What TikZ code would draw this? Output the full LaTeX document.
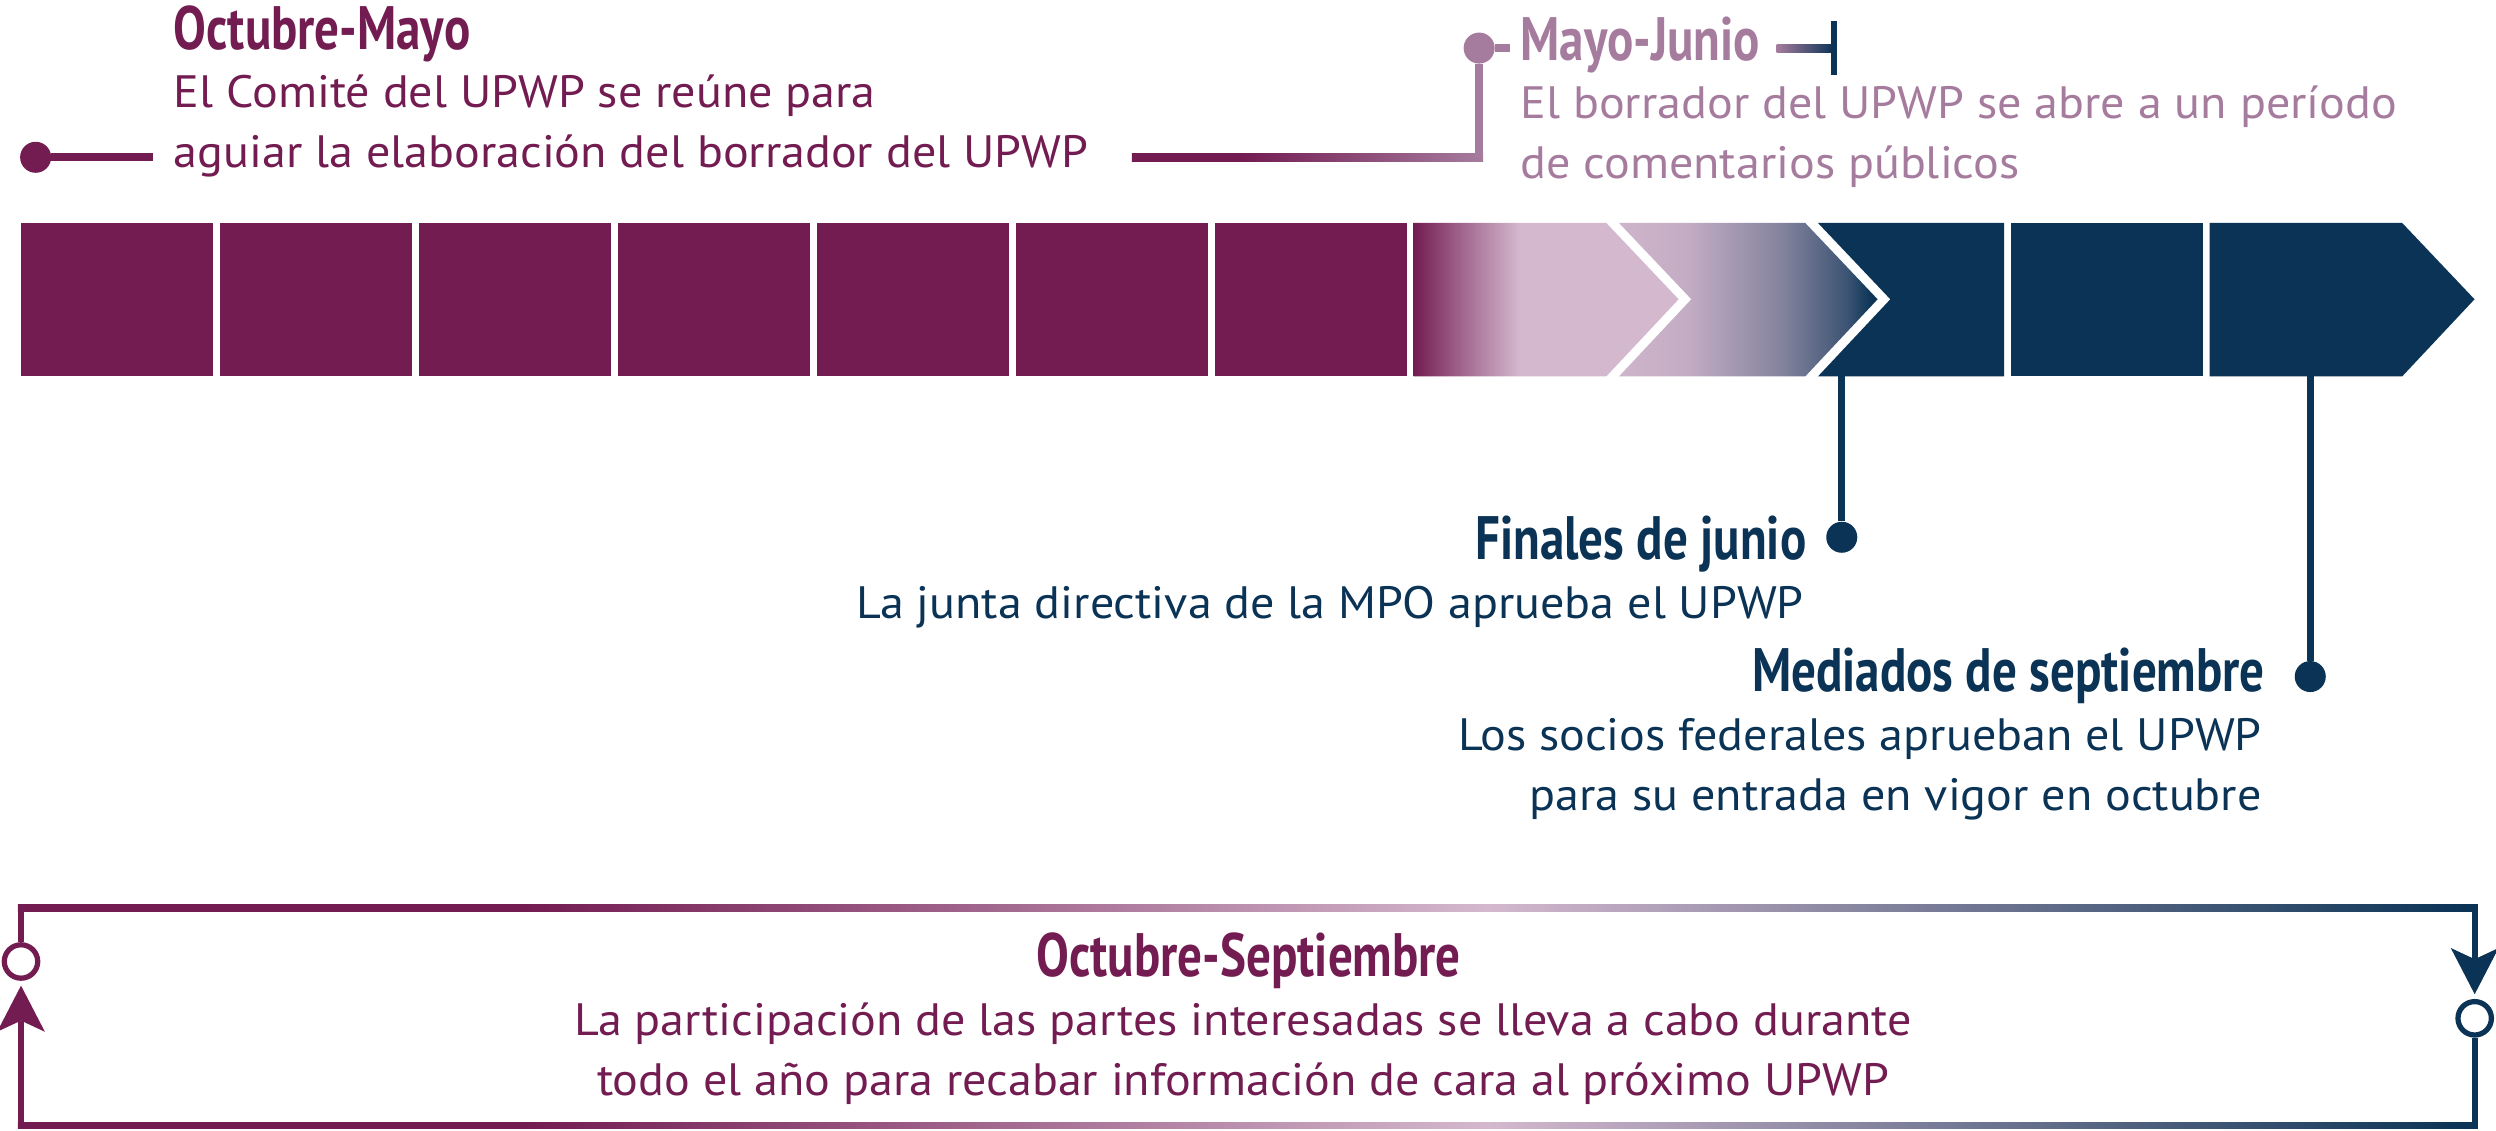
\documentclass[tikz,border=0pt]{standalone}
\usepackage{fontspec}
\setmainfont{PT Sans}
\newfontfamily\headfont[FakeStretch=0.80]{PT Sans Bold}
\newfontfamily\bodyfont[FakeStretch=1.06]{PT Sans}
\usetikzlibrary{arrows.meta,calc}

\definecolor{plum}{RGB}{115,28,82}
\definecolor{navy}{RGB}{10,51,85}
\definecolor{blush}{RGB}{212,184,206}
\definecolor{mauve}{RGB}{166,124,158}

\pgfdeclarehorizontalshading{octfade}{100bp}{color(0bp)=(plum); color(25bp)=(plum); color(33.6bp)=(plum!55!blush); color(45bp)=(blush); color(100bp)=(blush)}
\pgfdeclarehorizontalshading{junfade}{100bp}{color(0bp)=(blush!97!navy); color(25bp)=(blush!97!navy); color(38bp)=(blush!92!navy); color(56.6bp)=(blush!60!navy); color(69bp)=(blush!25!navy); color(74bp)=(navy); color(100bp)=(navy)}
\pgfdeclarehorizontalshading{linkfade}{100bp}{color(0bp)=(plum); color(40.7bp)=(plum); color(75bp)=(mauve); color(100bp)=(mauve)}
\pgfdeclarehorizontalshading{loopfade}{100bp}{color(0bp)=(plum); color(35.3bp)=(plum); color(54.9bp)=(blush); color(74.8bp)=(navy); color(100bp)=(navy)}

\begin{document}
\begin{tikzpicture}[x=1pt,y=-1pt,
    dot/.style={circle,fill,inner sep=0pt,minimum size=19.5pt},
    ring/.style={circle,draw,fill=white,line width=3.3pt,inner sep=0pt,minimum size=21pt},
    head/.style={inner sep=0pt,font=\headfont\fontsize{38.5}{40}\selectfont},
    body/.style={inner sep=0pt,font=\bodyfont\fontsize{28.5}{37.5}\selectfont},
    link/.style={line width=5pt},
    loopline/.style={line width=4pt},
    loophead/.style={-{Stealth[length=29pt 0 0,width=30pt 0 0,inset=7pt 0,line width=0pt]},shorten >=3pt}]

    \useasboundingbox (0,0) rectangle (1568,709.9);

    % months bar
    \foreach \i in {0,...,6}
        \fill[plum] ({13+125*\i},140) rectangle ++(121,96.5);
    \shade[shading=octfade] (888,140) -- (1009,140) -- (1054.5,188) -- (1009,236.5) -- (888,236.5) -- cycle;
    \shade[shading=junfade] (1017,140) -- (1134,140) -- (1179.5,188) -- (1134,236.5) -- (1017,236.5) -- (1062.5,188) -- cycle;
    \fill[navy] (1142,140) -- (1259,140) -- (1259,236.5) -- (1142,236.5) -- (1187.5,188) -- cycle;
    \fill[navy] (1263,140) rectangle (1384,236.5);
    \fill[navy] (1388,140) -- (1509,140) -- (1554.5,188) -- (1509,236.5) -- (1388,236.5) -- cycle;

    % Octubre-Mayo
    \node[dot,plum] (octDot) at (22.4,98.8) {};
    \coordinate (octStub) at (96,98.8);
    \draw[link,plum] (octDot) -- (octStub);
    \node[head,plum,anchor=base west] (octHead) at (109,31) {Octubre-Mayo};
    \node[body,plum,anchor=base west,align=left] (octText) at (109,105)
        {El Comité del UPWP se reúne para\\aguiar la elaboración del borrador del UPWP};

    % Mayo-Junio
    \coordinate (octLink) at (711,98.8);
    \coordinate (junCorner) at (929.2,98.8);
    \node[dot,mauve] (junDot) at (929.2,30.2) {};
    \shade[shading=linkfade] ($(octLink)+(0,-2.5)$) rectangle ($(junCorner)+(2.5,2.5)$);
    \draw[link,mauve] (junCorner) -- (junDot);
    \coordinate (junStub) at (948.4,30.2);
    \draw[link,mauve] (junDot) -- (junStub);
    \node[head,mauve,anchor=base west] (junHead) at (955,37.7) {Mayo-Junio};
    \coordinate (junTail) at (1116,30.5);
    \coordinate (junTick) at (1152,30.5);
    \shade[left color=mauve,right color=navy] ($(junTail)+(0,-2.3)$) rectangle ($(junTick)+(0,2.3)$);
    \draw[navy,line width=3.5pt] ($(junTick)+(0,-17)$) -- ($(junTick)+(0,16.5)$);
    \node[body,mauve,anchor=base west,align=left] (junText) at (955,112)
        {El borrador del UPWP se abre a un período\\de comentarios públicos};

    % Finales de junio
    \coordinate (finTop) at (1157,236.5);
    \node[dot,navy] (finDot) at (1157,337.5) {};
    \draw[navy,line width=4.5pt] (finTop) -- (finDot);
    \node[head,navy,anchor=base east] (finHead) at (1135,351.3) {Finales de junio};
    \node[body,navy,anchor=base east] (finText) at (1133.4,388.4) {La junta directiva de la MPO aprueba el UPWP};

    % Mediados de septiembre
    \coordinate (medTop) at (1451.3,236.5);
    \node[dot,navy] (medDot) at (1451.3,425) {};
    \draw[navy,line width=4.5pt] (medTop) -- (medDot);
    \node[head,navy,anchor=base east] (medHead) at (1423,434.5) {Mediados de septiembre};
    \node[body,navy,anchor=base east,align=right] (medText) at (1421,509)
        {Los socios federales aprueban el UPWP\\para su entrada en vigor en octubre};

    % Octubre-Septiembre loop
    \node[ring,draw=plum] (yearIn) at (13.2,604) {};
    \node[ring,draw=navy] (yearOut) at (1554.6,639.7) {};
    \coordinate (loopTL) at (13.2,570.5);
    \coordinate (loopTR) at (1554.6,570.5);
    \coordinate (loopBR) at (1554.6,707);
    \coordinate (loopBL) at (13.2,707);
    \shade[shading=loopfade] ($(loopTL)+(-2,-2)$) rectangle ($(loopTR)+(2,2)$);
    \shade[shading=loopfade] ($(loopBL)+(-2,-2)$) rectangle ($(loopBR)+(2,2)$);
    \draw[loopline,plum] (yearIn) -- (loopTL);
    \draw[loopline,navy,loophead] (loopTR) -- (yearOut);
    \draw[loopline,navy] (yearOut) -- (loopBR);
    \draw[loopline,plum,loophead] (loopBL) -- (yearIn);
    \node[head,plum,anchor=base] (yearHead) at (784.5,613.5) {Octubre-Septiembre};
    \node[body,plum,anchor=base,align=center] (yearText) at (781,688)
        {La participación de las partes interesadas se lleva a cabo durante\\todo el año para recabar información de cara al próximo UPWP};
\end{tikzpicture}
\end{document}
